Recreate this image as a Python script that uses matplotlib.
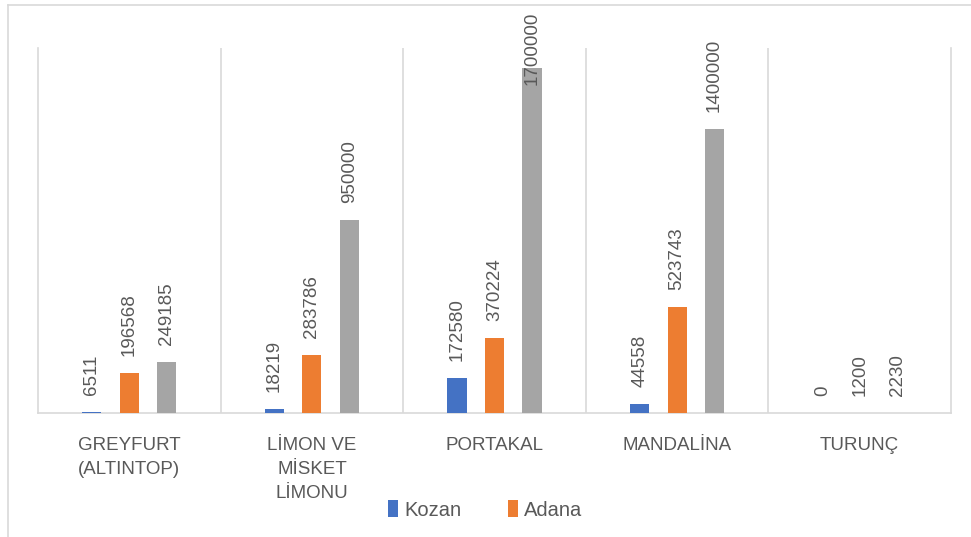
import matplotlib.pyplot as plt
from matplotlib.lines import Line2D
import numpy as np

# data
categories = ['GREYFURT\n(ALTINTOP)', 'LİMON VE\nMİSKET\nLİMONU', 'PORTAKAL',
              'MANDALİNA', 'TURUNÇ']
kozan = [6511, 18219, 172580, 44558, 0]
adana = [196568, 283786, 370224, 523743, 1200]
turkiye = [249185, 950000, 1700000, 1400000, 2230]

series_names = ['Kozan', 'Adana', 'Türkiye']
colors = ['#4472C4', '#ED7D31', '#A5A5A5']
text_gray = '#595959'
line_gray = '#D9D9D9'

plt.rcParams['font.family'] = ['Liberation Sans', 'DejaVu Sans']

W, H = 971, 537
fig = plt.figure(figsize=(W / 100, H / 100), dpi=100)
ax = fig.add_axes([38 / W, 124 / H, 913 / W, 365 / H])

# outer chart frame (left + top visible in the reference)
fig.add_artist(Line2D([8 / W, 8 / W], [0, 532 / H], color=line_gray,
                      lw=1.2, transform=fig.transFigure))
fig.add_artist(Line2D([8 / W, 1], [532 / H, 532 / H], color=line_gray,
                      lw=1.2, transform=fig.transFigure))

ax.set_xlim(-0.5, len(categories) - 0.5)
ax.set_ylim(0, 1800000)

x = np.arange(len(categories))
width = 0.105
step = 0.205
label_fs = 13.5
gap_px = 17
top_limit = H - 12  # labels are pushed down to stay inside the frame

bars = []
for i, (vals, c) in enumerate(zip([kozan, adana, turkiye], colors)):
    xs = x + (i - 1) * step
    b = ax.bar(xs, vals, width, color=c, label=series_names[i], zorder=3)
    bars.append(b)
    for xi, v in zip(xs, vals):
        txt = str(v)
        px, py = ax.transData.transform((xi, v))
        text_len = len(txt) * 0.556 * label_fs * 100 / 72
        if py + gap_px + text_len > top_limit:
            fig.text(px / W, top_limit / H, txt, rotation=90, ha='center',
                     va='top', fontsize=label_fs, color=text_gray)
        else:
            ax.annotate(txt, (xi, v), xytext=(0, gap_px * 0.72),
                        textcoords='offset points', ha='center', va='bottom',
                        rotation=90, fontsize=label_fs, color=text_gray,
                        annotation_clip=False)

ax.set_yticks([])
ax.set_xticks(x)
ax.set_xticklabels(categories, fontsize=13.5, color=text_gray, linespacing=1.55)
ax.tick_params(axis='x', length=0, pad=17)
ax.set_xticks(np.arange(0.5, len(categories) - 0.5), minor=True)
ax.tick_params(axis='x', which='minor', length=0)
ax.grid(axis='x', which='minor', color=line_gray, lw=1.2, zorder=0)

for s in ['left', 'right', 'bottom']:
    ax.spines[s].set_color(line_gray)
    ax.spines[s].set_linewidth(1.2)
ax.spines['top'].set_visible(False)

fig.legend(handles=[bars[0], bars[1]], labels=series_names[:2], loc='center',
           bbox_to_anchor=(485 / W, 1 - 510 / H), ncol=2, frameon=False,
           fontsize=14.5, labelcolor=text_gray, handlelength=0.5,
           handleheight=0.9, handletextpad=0.3, columnspacing=2.3)

fig.savefig('out.png', dpi=100)
